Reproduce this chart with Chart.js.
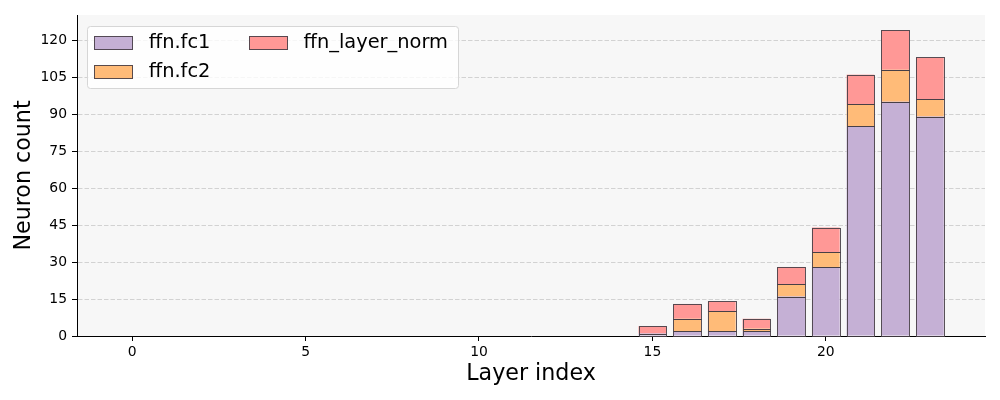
<!DOCTYPE html>
<html>
<head>
<meta charset="utf-8">
<script src="https://cdn.jsdelivr.net/npm/chart.js@4/dist/chart.umd.min.js"></script>
<style>
  html, body { margin: 0; padding: 0; background: #ffffff; }
  #wrap { width: 1000px; height: 400px; position: relative; }
</style>
</head>
<body>
<div id="wrap"><canvas id="c" width="1000" height="400"></canvas></div>
<script>
// ---- data ----
const layers = [0,1,2,3,4,5,6,7,8,9,10,11,12,13,14,15,16,17,18,19,20,21,22,23];
const fc1Counts  = [0,0,0,0,0,0,0,0,0,0,0,0,0,0,0,1,2,2,2,16,28,85,95,89];
const fc2Counts  = [0,0,0,0,0,0,0,0,0,0,0,0,0,0,0,0,5,8,1,5,6,9,13,7];
const normCounts = [0,0,0,0,0,0,0,0,0,0,0,0,0,0,0,3,6,4,4,7,10,12,16,17];
const seriesNames = ['ffn.fc1', 'ffn.fc2', 'ffn_layer_norm'];
const xTickStep = 5;
const yTickStep = 15;

const colors = ['#c5b0d5', '#ffbb78', '#ff9896'];
const edge = 'rgba(70,62,70,0.9)';
const FONT = "'DejaVu Sans', sans-serif";

function toPoints(vals) { return layers.map((l, i) => ({x: l, y: vals[i]})); }

const allSeries = [fc1Counts, fc2Counts, normCounts];
const totals = layers.map((_, i) => fc1Counts[i] + fc2Counts[i] + normCounts[i]);
const yMax = Math.max(...totals) * 1.05;
const xRange = (layers[layers.length-1] + 0.4) - (layers[0] - 0.4);
const xMin = layers[0] - 0.4 - xRange * 0.05;
const xMax = layers[layers.length-1] + 0.4 + xRange * 0.05;

const datasets = allSeries.map((vals, k) => ({
  label: seriesNames[k],
  data: toPoints(vals),
  backgroundColor: colors[k],
  borderWidth: 0,
  inflateAmount: 0,
  categoryPercentage: 1.0,
  barPercentage: 0.8
}));

const bgPlugin = {
  id: 'plotBg',
  beforeDraw(chart) {
    const {ctx, chartArea: a} = chart;
    ctx.save();
    ctx.fillStyle = '#f7f7f7';
    ctx.fillRect(a.left, a.top, a.right - a.left, a.bottom - a.top);
    ctx.restore();
  }
};

// matplotlib-style edges: stroke centred on each bar's outline
const edgePlugin = {
  id: 'barEdges',
  afterDatasetsDraw(chart) {
    const {ctx} = chart;
    ctx.save();
    ctx.strokeStyle = edge;
    ctx.lineWidth = 1;
    chart.data.datasets.forEach((d, di) => {
      const meta = chart.getDatasetMeta(di);
      meta.data.forEach((el, i) => {
        if (!d.data[i].y) return;
        const p = el.getProps(['x', 'y', 'base', 'width'], true);
        const l = Math.round(p.x - p.width / 2) + 0.5;
        const r = Math.round(p.x + p.width / 2) + 0.5;
        const t = Math.round(p.y) + 0.5;
        const b = Math.round(p.base) + 0.5;
        ctx.strokeRect(l, t, r - l, b - t);
      });
    });
    ctx.restore();
  }
};

const legendPlugin = {
  id: 'mplLegend',
  afterDraw(chart) {
    const {ctx, chartArea: a} = chart;
    const fs = 19.4;
    const borderpad = 0.4 * fs, handleLen = 2.0 * fs, handleH = 0.7 * fs;
    const textPad = 0.8 * fs, labelSp = 0.5 * fs, colSp = 2.0 * fs, axPad = 0.5 * fs;
    ctx.save();
    ctx.font = fs + 'px ' + FONT;
    const ds = chart.data.datasets;
    const ncol = 2;
    const perCol = Math.ceil(ds.length / ncol);
    const cols = [];
    for (let c = 0; c < ncol; c++) cols.push(ds.slice(c * perCol, (c + 1) * perCol));
    const rowH = fs;
    const boxLeft = a.left + axPad;
    const boxTop = a.top + axPad + 1;
    let colWidths = cols.map(col => handleLen + textPad + Math.max(...col.map(d => ctx.measureText(d.label).width)));
    const boxW = borderpad * 2 + colWidths.reduce((s, w) => s + w, 0) + colSp * (ncol - 1) + 2;
    const boxH = borderpad * 2 + perCol * rowH + (perCol - 1) * labelSp - 2;
    ctx.fillStyle = 'rgba(255,255,255,0.8)';
    ctx.strokeStyle = '#d6d6d6';
    ctx.lineWidth = 1;
    ctx.beginPath();
    ctx.roundRect(Math.round(boxLeft) + 0.5, Math.round(boxTop) + 0.5, Math.round(boxW), Math.round(boxH), 3);
    ctx.fill();
    ctx.stroke();
    let x = boxLeft + borderpad;
    cols.forEach((col, c) => {
      col.forEach((d, i) => {
        const cy = boxTop + borderpad + i * (rowH + labelSp) + rowH / 2;
        ctx.fillStyle = d.backgroundColor;
        ctx.fillRect(Math.round(x), Math.round(cy - handleH / 2), Math.round(handleLen), Math.round(handleH));
        ctx.strokeStyle = edge;
        ctx.lineWidth = 1;
        ctx.strokeRect(Math.round(x) + 0.5, Math.round(cy - handleH / 2) + 0.5, Math.round(handleLen) - 1, Math.round(handleH) - 1);
        ctx.fillStyle = '#000';
        ctx.textBaseline = 'middle';
        ctx.textAlign = 'left';
        ctx.fillText(d.label, x + handleLen + textPad, cy);
      });
      x += colWidths[c] + colSp;
    });
    ctx.restore();
  }
};

new Chart(document.getElementById('c'), {
  type: 'bar',
  data: { datasets },
  plugins: [bgPlugin, edgePlugin, legendPlugin],
  options: {
    responsive: false,
    animation: false,
    devicePixelRatio: 1,
    layout: { padding: { top: 15, right: 15, left: 0, bottom: 0 } },
    plugins: { legend: { display: false }, tooltip: { enabled: false } },
    scales: {
      x: {
        type: 'linear',
        stacked: true,
        min: xMin,
        max: xMax,
        offset: false,
        afterFit(scale) { scale.height = 64; },
        ticks: {
          stepSize: xTickStep,
          includeBounds: false,
          autoSkip: false,
          maxRotation: 0,
          color: '#000',
          padding: 3,
          font: { family: FONT, size: 13.9 },
          callback: v => String(v)
        },
        grid: { offset: false, drawOnChartArea: false, drawTicks: true, tickLength: 5, tickColor: '#000', tickWidth: 1 },
        border: { display: true, color: '#000', width: 1 },
        title: {
          display: true,
          text: 'Layer index',
          color: '#000',
          font: { family: FONT, size: 22.2 },
          padding: { top: 0, bottom: 12 }
        }
      },
      y: {
        type: 'linear',
        stacked: true,
        min: 0,
        max: yMax,
        afterFit(scale) { scale.width = 77; },
        ticks: {
          stepSize: yTickStep,
          includeBounds: false,
          autoSkip: false,
          color: '#000',
          padding: 5,
          font: { family: FONT, size: 13.9 }
        },
        grid: {
          offset: false,
          drawOnChartArea: true,
          color: ctx => ctx.tick && ctx.tick.value === 0 ? 'rgba(0,0,0,0)' : '#d2d2d2',
          lineWidth: 1,
          drawTicks: true,
          tickLength: 5,
          tickColor: '#000',
          tickWidth: 1,
          tickBorderDash: []
        },
        border: { display: true, color: '#000', width: 1, dash: [4.5, 2] },
        title: {
          display: true,
          text: 'Neuron count',
          color: '#000',
          font: { family: FONT, size: 22.2 },
          padding: { top: 11, bottom: 0 }
        }
      }
    }
  }
});
</script>
</body>
</html>
